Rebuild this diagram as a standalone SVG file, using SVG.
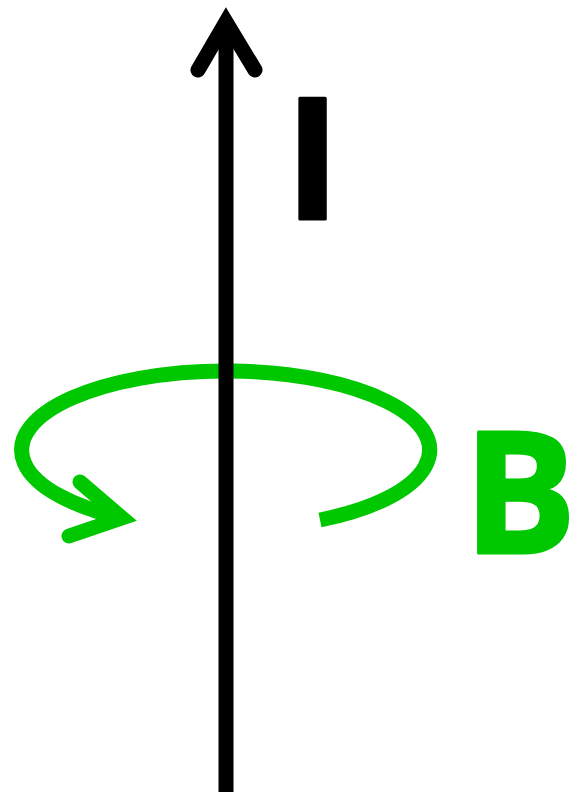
<svg xmlns="http://www.w3.org/2000/svg" width="577" height="792" viewBox="0 0 577 792">
<style>
.lbl{font-family:"Open Sans","Noto Sans","Liberation Sans",sans-serif;font-weight:bold;font-size:168px;text-anchor:middle;stroke-linejoin:round;stroke-width:3}
.field{fill:none;stroke:#00c800;stroke-width:15}
.wire{fill:none;stroke:#000;stroke-width:15}
</style>
<rect width="577" height="792" fill="#fff"/>
<g id="field-B">
<path class="field" d="M320,520 A204,79 0 1 0 122,518"/>
<path class="field" d="M80,482 L122,518 L69,536" stroke-linecap="round" stroke-linejoin="miter"/>
</g>
<g id="current-I">
<line class="wire" x1="226" y1="25" x2="226" y2="800"/>
<path class="wire" d="M198,70 L226,22 L255,70" stroke-linecap="round" stroke-linejoin="miter"/>
</g>
<g id="label-I"><text class="lbl" x="312.5" y="218.5" fill="#000" stroke="#000">I</text></g>
<g id="label-B"><text class="lbl" x="520" y="552.5" font-size="165" fill="#00c800" stroke="#00c800">B</text></g>
</svg>
